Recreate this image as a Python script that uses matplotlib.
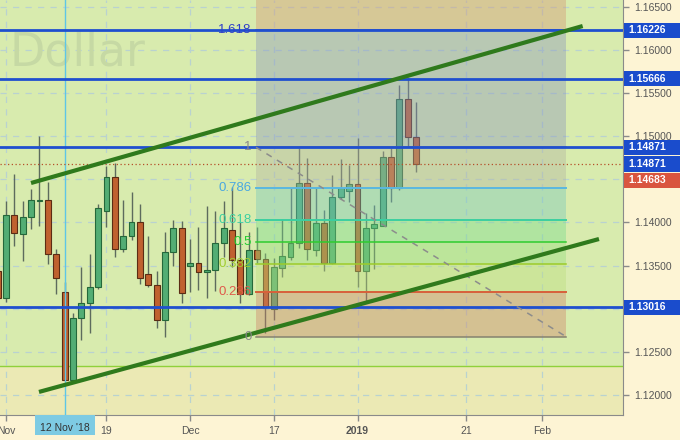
import numpy as np
import matplotlib
matplotlib.use("Agg")
import matplotlib.pyplot as plt
from matplotlib.patches import Rectangle

plt.rcParams['font.family'] = ['Liberation Sans', 'DejaVu Sans']

# ---- data ----
# x = trading session index, 0 = 1 Nov 2018
idx = np.arange(-1, 50)
opens = [1.13438, 1.13121, 1.14086, 1.13863, 1.14063, 1.14252, 1.14257, 1.13638, 1.13198, 1.12171,
         1.12893, 1.13063, 1.13256, 1.14129, 1.14523, 1.13693, 1.13840, 1.14009, 1.13399, 1.13275,
         1.12870, 1.13661, 1.13932, 1.13499, 1.13527, 1.13423, 1.13446, 1.13759, 1.13913, 1.13565,
         1.13168, 1.13681, 1.13573, 1.12994, 1.13476, 1.13603, 1.13759, 1.14461, 1.13681, 1.13997,
         1.13527, 1.14292, 1.14368, 1.14446, 1.13434, 1.13932, 1.13959, 1.14755, 1.14403, 1.15427,
         1.14994]
highs = [1.13507, 1.14249, 1.14562, 1.14249, 1.14384, 1.15002, 1.14469, 1.13696, 1.13310, 1.12947,
         1.13487, 1.13631, 1.14214, 1.14654, 1.14692, 1.14260, 1.14353, 1.14214, 1.13843, 1.13438,
         1.13886, 1.14029, 1.14017, 1.13808, 1.13944, 1.14191, 1.14136, 1.14252, 1.14414, 1.14009,
         1.13893, 1.13944, 1.13650, 1.13585, 1.14037, 1.14396, 1.14859, 1.14743, 1.14396, 1.14144,
         1.14550, 1.14732, 1.14666, 1.14975, 1.14113, 1.14202, 1.14832, 1.14859, 1.15593, 1.15682,
         1.15399]
lows = [1.13078, 1.13082, 1.13727, 1.13557, 1.13928, 1.13959, 1.13519, 1.13175, 1.12165, 1.12165,
        1.12638, 1.12716, 1.13226, 1.13951, 1.13603, 1.13661, 1.13797, 1.13283, 1.13256, 1.12777,
        1.12676, 1.13499, 1.13063, 1.13198, 1.13217, 1.13121, 1.13209, 1.13603, 1.13487, 1.13070,
        1.13160, 1.13527, 1.12716, 1.12870, 1.13372, 1.13565, 1.13708, 1.13565, 1.13611, 1.13441,
        1.13520, 1.14268, 1.14241, 1.13256, 1.13082, 1.13461, 1.13955, 1.14241, 1.14376, 1.14878,
        1.14588]
closes = [1.13121, 1.14086, 1.13874, 1.14063, 1.14257, 1.14257, 1.13638, 1.13353, 1.12171, 1.12893,
          1.13063, 1.13256, 1.14164, 1.14523, 1.13693, 1.13840, 1.14009, 1.13356, 1.13275, 1.12870,
          1.13661, 1.13932, 1.13186, 1.13527, 1.13423, 1.13446, 1.13759, 1.13932, 1.13565, 1.13168,
          1.13681, 1.13573, 1.13024, 1.13480, 1.13611, 1.13759, 1.14461, 1.13693, 1.13997, 1.13527,
          1.14292, 1.14403, 1.14446, 1.13434, 1.13932, 1.13979, 1.14755, 1.14403, 1.15427, 1.14994,
          1.14683]

tick_idx = [0, 12, 22, 32, 42, 55, 64]
tick_labels = ['Nov', '19', 'Dec', '17', '2019', '21', 'Feb']
cursor_idx = 7
cursor_label = "12 Nov '18"

blue_levels = [1.16226, 1.15666, 1.14871, 1.13016]
last_price = 1.14683
support_zone_top = 1.12337

# fibonacci retracement: from level 1 at start to level 0 at end
fib_idx = [29.87, 66.9]
fib_prices = [1.14871, 1.12678]
fib_levels = [0, 0.236, 0.382, 0.5, 0.618, 0.786, 1, 1.618, 2.618]
fib_labels = ['0', '0.236', '0.382', '0.5', '0.618', '0.786', '1', '1.618', '']

# channel trend lines
upper_idx, upper_px = [2.99, 68.9], [1.14457, 1.16276]
lower_idx, lower_px = [3.94, 70.85], [1.12036, 1.13808]

price_tags = [1.16226, 1.15666, 1.14871, 1.14871, 1.14683, 1.13016]
tag_colors = ['#1a4ccc', '#1a4ccc', '#1a4ccc', '#1a4ccc', '#d9553f', '#1a4ccc']

# ---- styling ----
BG = '#d8ebae'
PANEL = '#fdf4d4'
fib_fill = ['#ce8468', '#bade7c', '#92de7c', '#74da8b', '#74c6bd', '#b0b29f', '#8894bd', '#d39472']
fib_line = ['#85826f', '#d8603a', '#9ccc2a', '#2ecc2e', '#3ccfa0', '#5ab8e0', '#8a8a8a', '#2a3fcf', '#d39472']
fib_text = ['#8a8a8a', '#e05a4a', '#a0cc30', '#22cc33', '#3cd0a0', '#4aa8e0', '#8a8a8a', '#3040c8', '#000000']

W, H = 680, 440
fig = plt.figure(figsize=(W / 100, H / 100), dpi=100)
fig.patch.set_facecolor(PANEL)
ax = fig.add_axes([0, 25 / H, 623 / W, 415 / H])
ax.set_facecolor(BG)
ax.set_xlim(-0.717, 73.72)
ax.set_ylim(1.117688, 1.165776)

# lower yellowish zone
ax.axhspan(1.11, support_zone_top, color='#ebe9b4', lw=0, zorder=0.5)
ax.axhline(support_zone_top, color='#8fd13a', lw=1, zorder=1)

# watermark
ax.text(0.0145, 0.843, 'Dollar', transform=ax.transAxes, fontsize=33, family='DejaVu Sans',
        color='#c6d9a4', va='baseline', ha='left', zorder=0.6)

# grid
yt = np.arange(1.120, 1.1651, 0.005)
ax.set_yticks(yt)
ax.set_xticks(tick_idx)
ax.grid(True, color='#b9d2d0', lw=0.9, ls=(0, (5, 5)), zorder=0.8)
ax.set_axisbelow(True)

# candles
opens, highs, lows, closes = map(np.array, (opens, highs, lows, closes))
up = closes >= opens
ax.vlines(idx, lows, highs, color='#5d6b5d', lw=1, zorder=2)
body_lo = np.minimum(opens, closes)
body_h = np.maximum(np.abs(closes - opens), 0.00004)
ax.bar(idx[up], body_h[up], bottom=body_lo[up], width=0.7, color='#53ad74',
       edgecolor='#25683a', lw=0.8, zorder=2.2)
ax.bar(idx[~up], body_h[~up], bottom=body_lo[~up], width=0.7, color='#c0612f',
       edgecolor='#5b2c14', lw=0.8, zorder=2.2)

# fibonacci
f1, f0 = fib_prices
fib_px = [f0 + lv * (f1 - f0) for lv in fib_levels]
x0, x1 = fib_idx
for k in range(len(fib_px) - 1):
    ax.fill_between([x0, x1], fib_px[k], fib_px[k + 1], color=fib_fill[k], alpha=0.4, lw=0, zorder=3)
for k, p in enumerate(fib_px[:-1]):
    ax.plot([x0, x1], [p, p], color=fib_line[k], lw=1.4 if k in (1, 4, 5) else 1.1, zorder=3.5)
    ax.text(x0 - 0.5, p, fib_labels[k], ha='right', va='center', fontsize=9.5,
            color=fib_text[k], zorder=7)
ax.plot([x0, x1], [f1, f0], color='#8c8c8c', lw=1.1, ls=(0, (4, 4)), zorder=6)

# cursor & last price
ax.axvline(cursor_idx, color='#5ec6e6', lw=1, zorder=4)
ax.axhline(last_price, color='#b5502a', lw=0.9, ls=(0, (1, 2)), zorder=4)

# key levels
for lv in blue_levels:
    ax.axhline(lv, color='#1f4fcf', lw=2, zorder=5)

# channel
ax.plot(upper_idx, upper_px, color='#2f7a1c', lw=3, solid_capstyle='butt', zorder=6)
ax.plot(lower_idx, lower_px, color='#2f7a1c', lw=3, solid_capstyle='butt', zorder=6)

# axes styling
for s in ('left', 'top'):
    ax.spines[s].set_visible(False)
for s in ('right', 'bottom'):
    ax.spines[s].set_color('#8a8a8a')
ax.yaxis.tick_right()
ax.yaxis.set_major_formatter(matplotlib.ticker.FormatStrFormatter('%.5f'))
ax.tick_params(axis='y', length=4, width=1, color='#8a8a8a', labelcolor='#555555',
               labelsize=7.5, pad=4)
ax.tick_params(axis='x', length=4, width=1, color='#8a8a8a', labelcolor='#555555',
               labelsize=7.5, pad=4)
ax.set_xticklabels(tick_labels)
for t in ax.get_xticklabels():
    if t.get_text() == '2019':
        t.set_fontweight('bold')

# price tags on the right axis, stacked so they do not overlap
tag_h = 16.5
order = np.argsort(price_tags)[::-1]
prev = None
tag_ys = []
for k in order:
    y = ax.transData.transform((0, price_tags[k]))[1]
    if prev is not None and y > prev - tag_h:
        y = prev - tag_h
    prev = y
    tag_ys.append(y)
    fig.patches.append(Rectangle((624 / W, (y - tag_h / 2 + 0.5) / H), 56 / W, (tag_h - 1) / H,
                                 transform=fig.transFigure, fc=tag_colors[k], ec='none', zorder=5))
    fig.text(628 / W, y / H, f'{price_tags[k]:.5f}', color='white', fontweight='bold',
             fontsize=7.5, ha='left', va='center', zorder=6)

# axis labels hidden behind a tag are not drawn
ylabels = ax.get_yticklabels()
for val, lab in zip(yt, ylabels):
    ty = ax.transData.transform((0, val))[1]
    if any(abs(ty - y) < tag_h / 2 for y in tag_ys):
        lab.set_visible(False)

# cursor date tag
cx = ax.transData.transform((cursor_idx, 0))[0]
fig.patches.append(Rectangle(((cx - 30) / W, 5 / H), 60 / W, 20 / H, transform=fig.transFigure,
                             fc='#7ecbe3', ec='none', zorder=5))
fig.text(cx / W, 12 / H, cursor_label, color='#333333', fontsize=7.5, ha='center',
         va='center', zorder=6)

fig.savefig('out.png', dpi=100, facecolor=PANEL)
